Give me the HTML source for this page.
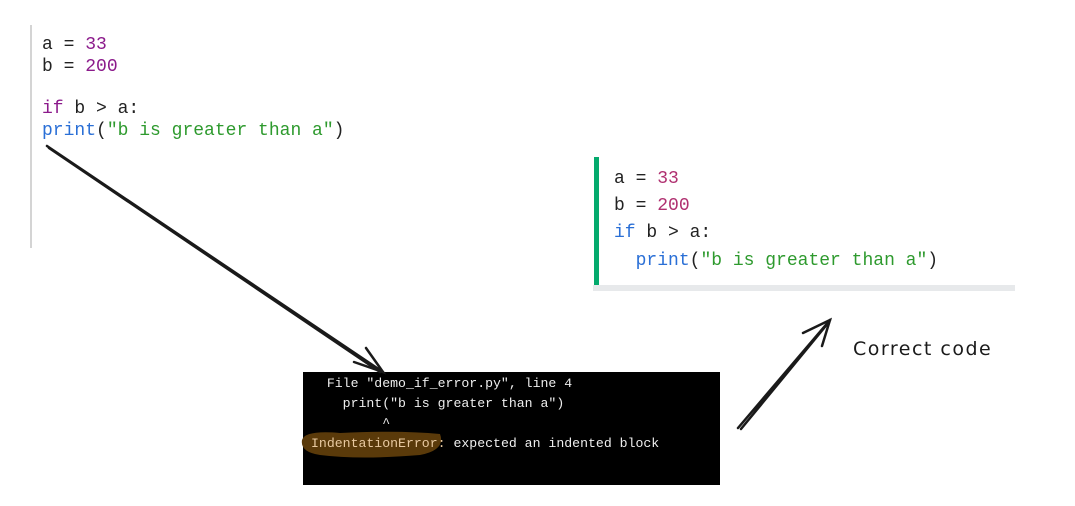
<!DOCTYPE html>
<html><head><meta charset="utf-8"><style>
body{margin:0;width:1075px;height:506px;background:#fff;position:relative;overflow:hidden;font-family:"Liberation Mono",monospace}
.t{position:absolute;white-space:pre;line-height:1}
.c1{font-size:18px;color:#222}
.num{color:#8b1a8b}.kw{color:#8b1a8b}.fn{color:#2a6fd6}.st{color:#2e9a2e}
.num2{color:#b03070}.kw2{color:#2a6fd6}
.term{font-size:13.2px;color:#eee;font-family:"Liberation Mono",monospace}
</style></head><body>
<div style="position:absolute;left:30px;top:25px;width:2px;height:223px;background:#d4d4d4"></div>
<div class="t c1" style="left:42px;top:36px">a = <span class="num">33</span></div>
<div class="t c1" style="left:42px;top:58px">b = <span class="num">200</span></div>
<div class="t c1" style="left:42px;top:100px"><span class="kw">if</span> b &gt; a:</div>
<div class="t c1" style="left:42px;top:122px"><span class="fn">print</span>(<span class="st">"b is greater than a"</span>)</div>

<div style="position:absolute;left:594px;top:157px;width:5px;height:128px;background:#04aa6d"></div>
<div style="position:absolute;left:593px;top:285px;width:422px;height:6px;background:#e7e9eb"></div>
<div class="t c1" style="left:614px;top:170px">a = <span class="num2">33</span></div>
<div class="t c1" style="left:614px;top:197px">b = <span class="num2">200</span></div>
<div class="t c1" style="left:614px;top:224px"><span class="kw2">if</span> b &gt; a:</div>
<div class="t c1" style="left:614px;top:252px">  <span class="fn">print</span>(<span class="st">"b is greater than a"</span>)</div>

<div style="position:absolute;left:303px;top:372px;width:417px;height:113px;background:#000"></div>
<svg style="position:absolute;left:0;top:0" width="1075" height="506">
<path d="M302 440 Q305 430 340 433 Q400 430 440 434 Q446 450 420 455 Q360 460 320 455 Q300 452 302 440Z" fill="#5a3a0a"/>
<g stroke="#1a1a1a" stroke-width="2.5" fill="none" stroke-linecap="round">
<path d="M47 146 L383 372 M49 148 L380 372"/>
<path d="M366 348 L383 372 L354 362"/>
<path d="M738 428 L830 320 M741 429 L829 322"/>
<path d="M803 333 L830 320 L822 346"/>
</g></svg>
<div class="t term" style="left:311px;top:377px">  File "demo_if_error.py", line 4</div>
<div class="t term" style="left:311px;top:397px">    print("b is greater than a")</div>
<div class="t term" style="left:311px;top:417px">         ^</div>
<div class="t term" style="left:311px;top:437px"><span style="color:#e8c9a0">IndentationError:</span> expected an indented block</div>
<div class="t" style="left:853px;top:340px;font-family:'DejaVu Sans',sans-serif;font-size:19px;letter-spacing:1.5px;color:#1a1a1a">Correct code</div>
</body></html>
